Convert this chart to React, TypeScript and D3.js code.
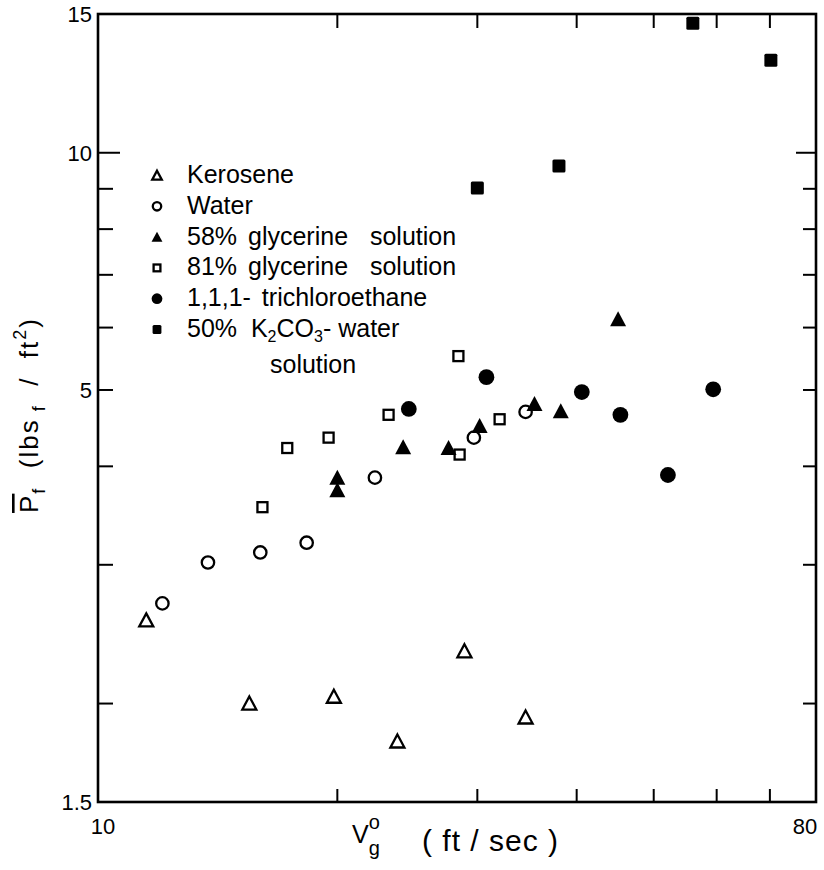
import React from 'react';
import * as d3 from 'd3';

const W = 824;
const H = 870;
const PLOT = { left: 98, right: 816, top: 14, bottom: 802 };

// Data (x: gas velocity ft/sec, y: P_f lbs_f/ft^2)
const keroseneX = [11.5, 15.5, 19.8, 23.8, 28.9, 34.5];
const keroseneY = [2.55, 2.0, 2.04, 1.79, 2.33, 1.92];
const waterX = [12.05, 13.75, 16.0, 18.3, 22.3, 29.7, 34.5];
const waterY = [2.68, 3.02, 3.11, 3.2, 3.87, 4.35, 4.69];
const gly58X = [20.0, 20.0, 24.2, 27.6, 30.2, 35.4, 38.2, 45.1];
const gly58Y = [3.87, 3.73, 4.23, 4.22, 4.5, 4.8, 4.7, 6.15];
const gly81X = [16.1, 17.3, 19.5, 23.2, 28.4, 28.5, 32.0];
const gly81Y = [3.55, 4.22, 4.35, 4.65, 5.52, 4.14, 4.59];
const tceX = [24.6, 30.8, 40.6, 45.4, 52.1, 59.4];
const tceY = [4.73, 5.19, 4.97, 4.65, 3.9, 5.01];
const k2co3X = [30.0, 38.0, 56.0, 70.2];
const k2co3Y = [9.02, 9.62, 14.6, 13.1];

const xTicks = [20, 30, 40, 50, 60, 70];
const yTicks = [2, 3, 4, 5, 6, 7, 8, 9, 10];
const xTickLabels = ['10', '80'];
const yTickLabels = ['1.5', '5', '10', '15'];

const legendNames = [
  'Kerosene',
  'Water',
  '58% glycerine  solution',
  '81% glycerine  solution',
  '1,1,1- trichloroethane',
];

const FONT = '"Liberation Sans", Arial, sans-serif';

type Kind = 'triOpen' | 'circOpen' | 'triFill' | 'sqOpen' | 'circFill' | 'sqFill';

function Marker({ kind, cx, cy, s = 1 }: { kind: Kind; cx: number; cy: number; s?: number }) {
  if (kind === 'triOpen') {
    const hw = 7 * s, top = 7 * s, bot = 6 * s;
    return (
      <path
        d={`M${cx},${cy - top}L${cx + hw},${cy + bot}L${cx - hw},${cy + bot}Z`}
        fill="#fff"
        stroke="#000"
        strokeWidth={2.3}
        strokeLinejoin="miter"
      />
    );
  }
  if (kind === 'triFill') {
    const hw = 8 * s, top = 8 * s, bot = 7 * s;
    return <path d={`M${cx},${cy - top}L${cx + hw},${cy + bot}L${cx - hw},${cy + bot}Z`} fill="#000" />;
  }
  if (kind === 'circOpen') {
    return <circle cx={cx} cy={cy} r={6.2 * s} fill="none" stroke="#000" strokeWidth={2.3} />;
  }
  if (kind === 'circFill') {
    return <circle cx={cx} cy={cy} r={7.9 * s} fill="#000" />;
  }
  if (kind === 'sqOpen') {
    const h = 5 * s;
    return <rect x={cx - h} y={cy - h} width={2 * h} height={2 * h} fill="#fff" stroke="#000" strokeWidth={2.3} />;
  }
  const h = 6.5 * s;
  return <rect x={cx - h} y={cy - h} width={2 * h} height={2 * h} rx={1.5} fill="#000" />;
}

export default function App() {
  const x = d3.scaleLog().domain([10, 80]).range([PLOT.left, PLOT.right]);
  const y = d3.scaleLog().domain([1.5, 15]).range([PLOT.bottom, PLOT.top]);

  const series: { kind: Kind; xs: number[]; ys: number[] }[] = [
    { kind: 'triOpen', xs: keroseneX, ys: keroseneY },
    { kind: 'circOpen', xs: waterX, ys: waterY },
    { kind: 'sqOpen', xs: gly81X, ys: gly81Y },
    { kind: 'triFill', xs: gly58X, ys: gly58Y },
    { kind: 'circFill', xs: tceX, ys: tceY },
    { kind: 'sqFill', xs: k2co3X, ys: k2co3Y },
  ];

  const legendKinds: Kind[] = ['triOpen', 'circOpen', 'triFill', 'sqOpen', 'circFill', 'sqFill'];
  const legX = 157;
  const legTextX = 187;
  const legBase0 = 183;
  const legStep = 30.8;

  return (
    <svg
      width={W}
      height={H}
      style={{ position: 'absolute', left: 0, top: 0, background: '#fff' }}
      fontFamily={FONT}
    >
      <rect x={0} y={0} width={W} height={H} fill="#fff" />

      {/* ticks */}
      <g stroke="#000" strokeWidth={2}>
        {xTicks.map((t) => (
          <g key={'xt' + t}>
            <line x1={x(t)} x2={x(t)} y1={PLOT.bottom} y2={PLOT.bottom - 13} />
            <line x1={x(t)} x2={x(t)} y1={PLOT.top} y2={PLOT.top + 14} />
          </g>
        ))}
        {yTicks.map((t) => {
          const len = t === 10 ? 22 : 15;
          const lenR = t === 10 ? 20 : 13;
          return (
            <g key={'yt' + t}>
              <line x1={PLOT.left} x2={PLOT.left + len} y1={y(t)} y2={y(t)} />
              <line x1={PLOT.right} x2={PLOT.right - lenR} y1={y(t)} y2={y(t)} />
            </g>
          );
        })}
      </g>

      {/* frame */}
      <rect
        x={PLOT.left}
        y={PLOT.top}
        width={PLOT.right - PLOT.left}
        height={PLOT.bottom - PLOT.top}
        fill="none"
        stroke="#000"
        strokeWidth={2.6}
      />

      {/* tick labels */}
      <g fontSize={22} fill="#000">
        {yTickLabels.map((l) => {
          const v = parseFloat(l);
          return (
            <text key={'yl' + l} x={PLOT.left - 6} y={y(v) + 8} textAnchor="end">
              {l}
            </text>
          );
        })}
        {xTickLabels.map((l) => {
          const v = parseFloat(l);
          return (
            <text key={'xl' + l} x={x(v) + (v === 10 ? 5 : -11)} y={PLOT.bottom + 32} textAnchor="middle">
              {l}
            </text>
          );
        })}
      </g>

      {/* data */}
      {series.map((s) =>
        s.xs.map((xv, i) => <Marker key={s.kind + i} kind={s.kind} cx={x(xv)} cy={y(s.ys[i])} />)
      )}

      {/* legend */}
      <g fontSize={25} fill="#000">
        {legendKinds.map((k, i) => (
          <Marker key={'lg' + k} kind={k} cx={legX} cy={legBase0 + i * legStep - 7.5} s={0.68} />
        ))}
        {legendNames.map((n, i) => (
          <text key={'lt' + i} x={legTextX} y={legBase0 + i * legStep} style={{ whiteSpace: 'pre' }} wordSpacing={4}>
            {n}
          </text>
        ))}
        <text x={legTextX} y={legBase0 + 5 * legStep} style={{ whiteSpace: 'pre' }}>
          <tspan>50%  K</tspan>
          <tspan fontSize={16} dy={5}>2</tspan>
          <tspan dy={-5}>CO</tspan>
          <tspan fontSize={16} dy={5}>3</tspan>
          <tspan dy={-5}>- water</tspan>
        </text>
        <text x={270} y={373}>solution</text>
      </g>

      {/* x axis title */}
      <text x={352} y={843} fontSize={25} fill="#000">
        <tspan>V</tspan>
        <tspan fontSize={20} dy={12}>g</tspan>
        <tspan fontSize={20} dx={-11} dy={-26}>o</tspan>
      </text>
      <text x={422} y={851} fontSize={30} fill="#000" style={{ whiteSpace: 'pre' }} letterSpacing={1}>
        ( ft / sec )
      </text>

      {/* y axis title */}
      <text
        transform="translate(38,415) rotate(-90)"
        textAnchor="middle"
        fontSize={26}
        fill="#000"
        style={{ whiteSpace: 'pre' }}
        letterSpacing={2}
      >
        <tspan style={{ textDecoration: 'overline' }}>P</tspan>
        <tspan fontSize={18} dy={7}>f</tspan>
        <tspan dy={-7}>  (lbs</tspan>
        <tspan fontSize={18} dy={7}> f</tspan>
        <tspan dy={-7}>  /  ft</tspan>
        <tspan fontSize={18} dy={-12}>2</tspan>
        <tspan dy={12}>)</tspan>
      </text>
    </svg>
  );
}
